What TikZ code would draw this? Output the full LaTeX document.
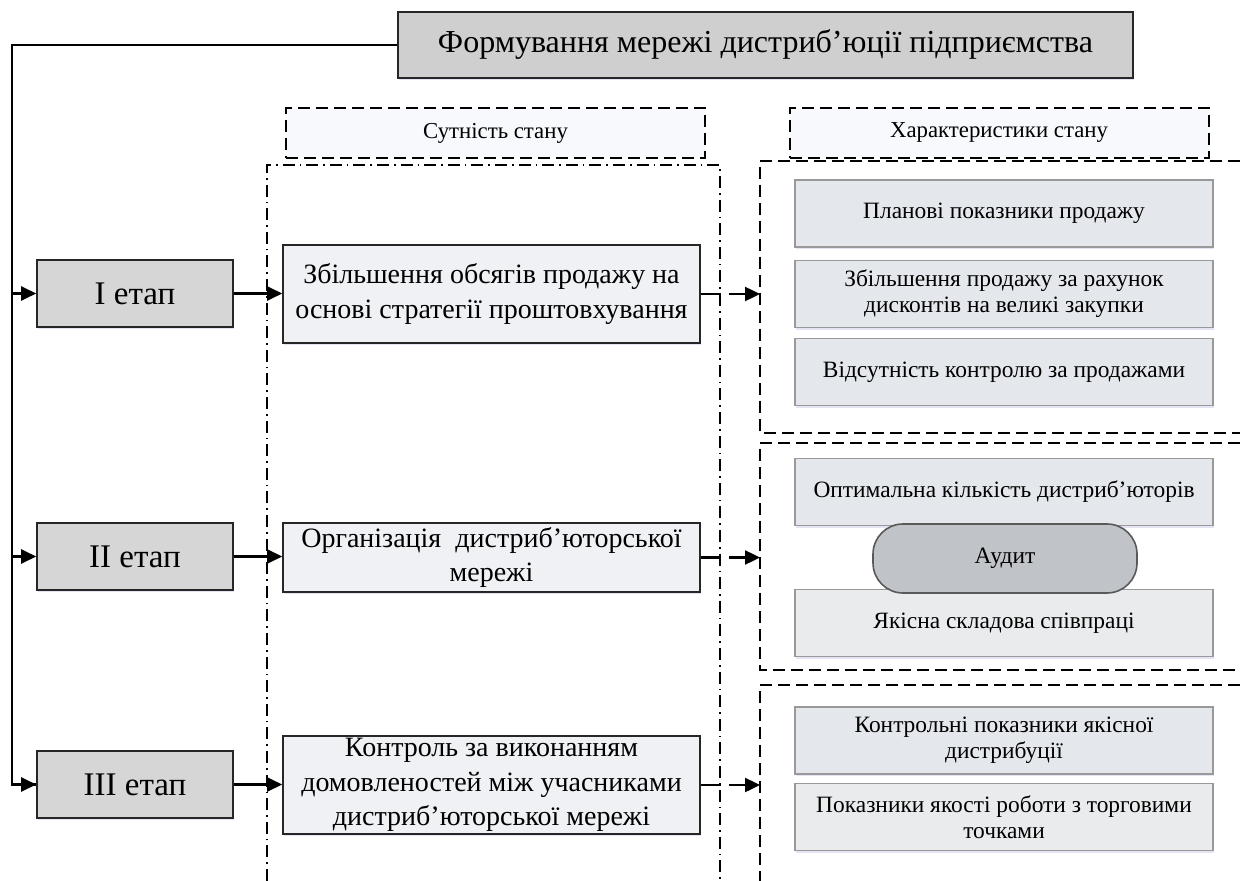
\documentclass[tikz,border=0pt]{standalone}
\usepackage{fontspec}
\setmainfont{Liberation Serif}
\usetikzlibrary{arrows.meta,shadows}
\definecolor{corefill}{HTML}{EFF1F4}
\definecolor{traitfill}{HTML}{E4E7EB}
\definecolor{traitfill2}{HTML}{EAEBEC}
\definecolor{auditfill}{HTML}{C0C3C8}
\definecolor{hdrfill}{HTML}{F7F9FD}
\tikzset{
        box/.style={draw=black!85, line width=0.8pt, align=center, inner sep=2pt},
        glow/.style={drop shadow={shadow xshift=0.6pt, shadow yshift=-1.2pt, fill=blue!40!gray, opacity=0.15}},
        title/.style={box, glow, fill=gray!38, minimum width=367.5pt, minimum height=33pt, font=\fontsize{16}{19}\selectfont},
        stage/.style={box, glow, fill=gray!32, minimum width=98pt, minimum height=33.5pt, font=\fontsize{16.5}{19}\selectfont},
        core/.style={box, glow, fill=corefill, inner ysep=0.5pt, minimum width=208.5pt, font=\fontsize{14}{17.2}\selectfont},
        hdr/.style={draw=black, line width=1pt, dash pattern=on 6pt off 3pt, fill=hdrfill, minimum width=209.5pt, minimum height=25pt, font=\fontsize{11.4}{13}\selectfont},
        trait/.style={draw=black!40, line width=0.8pt, glow, fill=traitfill, align=center, minimum width=209pt, minimum height=33.5pt, font=\fontsize{11.7}{13}\selectfont},
        audit/.style={draw=black!65, line width=0.8pt, fill=auditfill, rounded corners=15pt, minimum width=132pt, minimum height=34.5pt, font=\fontsize{11.7}{13}\selectfont},
        arr/.style={line width=1.2pt, -{Triangle[length=7.5pt,width=7pt]}},
        gaparr/.style={arr, dash pattern=on 10pt off 4pt on 30pt},
        wire/.style={line width=1.2pt},
        frame/.style={line width=1pt, dash pattern=on 6pt off 3pt},
        dotframe/.style={line width=0.8pt, dash pattern=on 6pt off 2.5pt on 0.8pt off 2.5pt}
          }
\begin{document}
\begin{tikzpicture}[x=0.5pt, y=-0.5pt]
        \useasboundingbox (0,0) rectangle (1240,881);
        % frames
        \draw[dotframe] (267,881) -- (267,165) -- (720,165) -- (720,881);
        \draw[frame] (1240,161) -- (760,161) -- (760,433) -- (1240,433);
        \draw[frame] (1240,443) -- (760,443) -- (760,670) -- (1240,670);
        \draw[frame] (1240,685) -- (760,685) -- (760,881);
        \coordinate (edge) at (760,0);

        \node[title] (top) at (765.5,45) {Формування мережі дистриб’юції підприємства};
        \node[hdr] (essence) at (495.5,133) {Сутність стану};
        \node[hdr] (features) at (999,133) {Характеристики стану};

        \node[stage] (st1) at (135,293.5) {I етап};
        \node[stage] (st2) at (135,556.5) {II етап};
        \node[stage] (st3) at (135,784.5) {III етап};

        \node[core, minimum height=49pt] (core1) at (491.5,294) {Збільшення обсягів продажу на\\основі стратегії проштовхування};
        \node[core, minimum height=34.5pt] (core2) at (491.5,557.5) {Організація \ дистриб’юторської\\мережі};
        \node[core, minimum height=49pt] (core3) at (491.5,785) {Контроль за виконанням\\домовленостей між учасниками\\дистриб’юторської мережі};

        \node[trait] (plan) at (1004,213.5) {Планові показники продажу};
        \node[trait] (disc) at (1004,294) {Збільшення продажу за рахунок\\дисконтів на великі закупки};
        \node[trait] (noctl) at (1004,372) {Відсутність контролю за продажами};
        \node[trait] (optim) at (1004,492) {Оптимальна кількість дистриб’юторів};
        \node[trait, fill=traitfill2] (qual) at (1004,623) {Якісна складова співпраці};
        \node[audit] (audit) at (1005,558.5) {Аудит};
        \node[trait] (ctrl) at (1004,740.5) {Контрольні показники якісної\\дистрибуції};
        \node[trait, fill=traitfill2] (shops) at (1004,817) {Показники якості роботи з торговими\\точками};

        % connectors
        \coordinate (spine) at (12,45);
        \draw[wire] (top.west) -- (spine) |- (st3.west);
        \draw[arr] (spine |- st1.west) -- (st1.west);
        \draw[arr] (spine |- st2.west) -- (st2.west);
        \draw[arr] (spine |- st3.west) -- (st3.west);
        \foreach \i in {1,2,3}{
          \draw[arr] (st\i.east) -- (core\i.west |- st\i.east);
          \draw[gaparr] (core\i.east) -- (core\i.east -| edge);
        }
      \end{tikzpicture}
\end{document}
